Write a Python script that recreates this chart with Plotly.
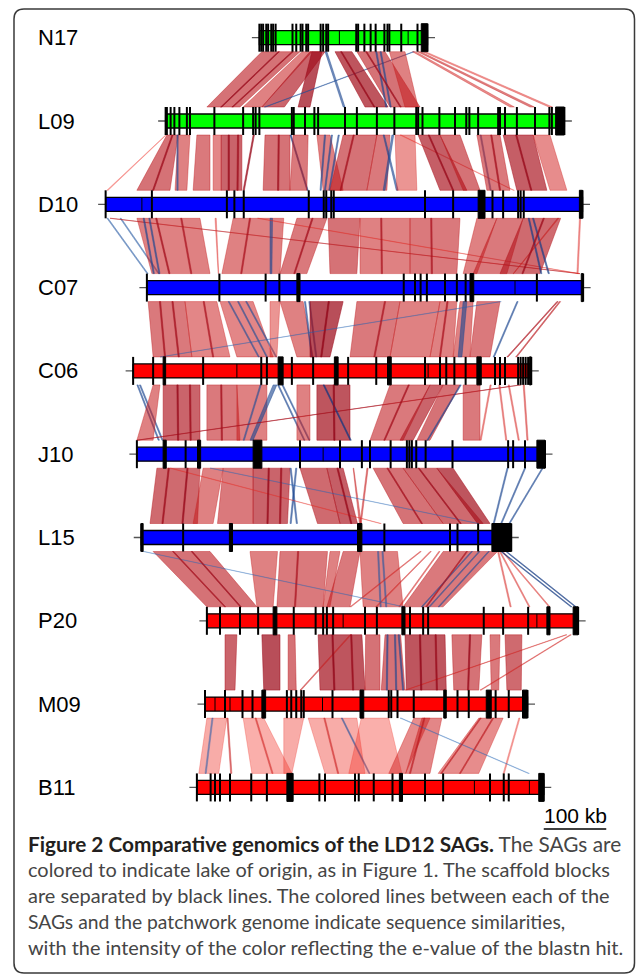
import plotly.graph_objects as go

# ---------------- data ----------------
GENOMES = ["N17", "L09", "D10", "C07", "C06", "J10", "L15", "P20", "M09", "B11"]
LAKE = ["green", "green", "blue", "blue", "red", "blue", "blue", "red", "red", "red"]
OFFSET_KB = [415, 265, 169, 235, 213, 219, 226, 331, 328, 315]
LENGTH_KB = [269, 638, 763, 698, 637, 653, 592, 594, 516, 555]

BOUNDS_KB = {
    "N17": [0, 3, 6, 11, 14, 19, 22, 26, 53, 59, 66, 69, 75, 78, 98, 102, 107, 110, 155, 158, 168,
            178, 186, 200, 205, 208, 227, 253],
    "L09": [0, 2, 8, 14, 22, 34, 39, 78, 124, 140, 144, 150, 202, 205, 223, 238, 244, 287, 306, 338,
            366, 401, 404, 411, 438, 463, 481, 486, 500, 532, 535, 543, 562, 591, 614, 618],
    "D10": [0, 74, 194, 206, 221, 325, 349, 353, 361, 365, 511, 556, 619, 636, 660, 664, 669],
    "C07": [0, 116, 190, 212, 411, 429, 438, 448, 477, 496, 510, 624],
    "C06": [0, 32, 112, 205, 214, 254, 288, 344, 389, 467, 491, 501, 514, 532, 579, 587, 595,
            616, 620, 624, 628, 632],
    "J10": [0, 78, 261, 325, 360, 373, 406, 432, 436, 440, 447, 462, 505, 594, 602, 621],
    "L15": [0, 67, 389, 494, 506, 539],
    "P20": [0, 21, 53, 82, 139, 174, 186, 192, 202, 253, 272, 325, 346, 354, 443, 474, 514],
    "M09": [0, 32, 60, 76, 131, 138, 146, 154, 158, 204, 294, 298, 308, 334, 404, 422, 465, 486],
    "B11": [0, 22, 29, 37, 53, 87, 112, 196, 205, 253, 259, 283, 313, 365, 394, 469, 491, 499],
}
MINOR_KB = {
    "N17": [128, 238], "L09": [], "D10": [58], "C07": [589], "C06": [166, 472],
    "J10": [298], "L15": [], "P20": [218, 528], "M09": [16, 40, 188], "B11": [444, 532],
}
BLOCKS_KB = {
    "N17": [(259, 269)],
    "L09": [(624, 638)],
    "D10": [(596, 607), (758, 763)],
    "C07": [(240, 245), (517, 523), (695, 698)],
    "C06": [(48, 52), (232, 240), (322, 328), (407, 413), (550, 557), (634, 637)],
    "J10": [(42, 47), (97, 102), (186, 200), (640, 653)],
    "L15": [(0, 3), (141, 146), (346, 353), (561, 592)],
    "P20": [(106, 112), (312, 317), (544, 549), (586, 594)],
    "M09": [(91, 97), (248, 254), (382, 386), (450, 458), (508, 516)],
    "B11": [(144, 154), (324, 329), (547, 555)],
}

# links: (upper start, upper end, lower start, lower end, e-value intensity, strand)
LINKS_N17_L09 = [
    (4, 65, 66, 119, 0.6, "r"), (68, 84, 124, 154, 0.5, "r"), (81, 105, 154, 190, 0.7, "r"),
    (84, 100, 212, 231, 0.85, "r"), (105, 108, 284, 287, 0.6, "b"), (246, 248, 158, 160, 0.5, "b"),
    (121, 148, 319, 356, 0.8, "r"), (156, 201, 359, 407, 0.6, "r"), (186, 188, 352, 354, 0.6, "b"),
    (193, 195, 359, 361, 0.6, "b"),
    (208, 233, 383, 404, 0.5, "r"), (245, 250, 551, 558, 0.4, "r"), (253, 258, 583, 590, 0.5, "r"),
    (261, 266, 613, 619, 0.3, "r"),
    (30, 32, 88, 90, 0.9, "r"), (52, 54, 106, 108, 0.85, "r"), (130, 132, 333, 335, 0.9, "r"),
    (170, 172, 375, 377, 0.85, "r"),
]
LINKS_L09_D10 = [
    (0, 1, 2, 4, 0.15, "r"), (2, 20, 50, 103, 0.6, "r"), (20, 39, 111, 130, 0.5, "r"),
    (18, 20, 114, 116, 0.5, "b"), (50, 71, 140, 167, 0.55, "r"), (76, 89, 172, 185, 0.45, "r"),
    (89, 122, 185, 218, 0.7, "r"), (140, 142, 220, 222, 0.9, "r"), (159, 199, 252, 295, 0.6, "r"),
    (199, 201, 322, 324, 0.8, "b"), (204, 228, 295, 322, 0.55, "r"), (242, 263, 348, 380, 0.5, "r"),
    (254, 256, 343, 345, 0.6, "b"), (265, 267, 350, 352, 0.6, "b"), (276, 278, 357, 359, 0.6, "b"),
    (284, 338, 359, 418, 0.6, "r"), (338, 359, 418, 450, 0.55, "r"),
    (348, 350, 465, 468, 0.6, "b"), (362, 365, 444, 447, 0.6, "b"), (367, 399, 466, 498, 0.35, "r"),
    (375, 377, 652, 654, 0.15, "r"), (404, 439, 535, 578, 0.75, "r"), (439, 471, 572, 599, 0.6, "r"),
    (503, 505, 615, 617, 0.5, "b"), (498, 535, 610, 647, 0.55, "r"), (540, 588, 658, 706, 0.75, "r"),
    (588, 615, 711, 738, 0.4, "r"),
    (10, 12, 75, 77, 0.85, "r"), (100, 102, 196, 198, 0.9, "r"), (115, 117, 210, 212, 0.85, "r"),
    (180, 182, 275, 277, 0.85, "r"), (300, 302, 375, 377, 0.8, "r"), (420, 422, 555, 557, 0.9, "r"),
    (560, 562, 680, 682, 0.9, "r"), (520, 522, 630, 632, 0.8, "r"),
]
LINKS_D10_C07 = [
    (2, 4, 0, 2, 0.4, "b"), (23, 25, 18, 20, 0.4, "b"), (7, 9, 691, 693, 0.6, "r"),
    (50, 151, 8, 101, 0.5, "r"), (60, 62, 10, 12, 0.6, "b"), (69, 71, 19, 21, 0.6, "b"),
    (175, 177, 114, 115, 0.3, "r"),
    (204, 285, 120, 213, 0.5, "r"), (263, 267, 197, 200, 0.6, "b"), (306, 354, 213, 256, 0.55, "r"),
    (356, 407, 293, 336, 0.6, "r"), (407, 487, 341, 421, 0.5, "r"), (487, 567, 421, 496, 0.55, "r"),
    (243, 245, 690, 692, 0.25, "r"), (594, 626, 506, 528, 0.5, "r"), (626, 668, 522, 576, 0.55, "r"),
    (668, 728, 565, 629, 0.65, "r"), (676, 678, 630, 632, 0.7, "b"), (683, 685, 642, 644, 0.7, "b"),
    (758, 760, 688, 690, 0.3, "r"), (723, 725, 586, 587, 0.5, "r"),
    (80, 82, 35, 37, 0.8, "r"), (120, 122, 70, 72, 0.75, "r"), (230, 232, 150, 152, 0.75, "r"),
    (330, 332, 235, 237, 0.8, "r"), (440, 442, 375, 377, 0.75, "r"), (520, 522, 455, 457, 0.75, "r"),
    (700, 702, 600, 602, 0.85, "r"),
]
LINKS_C07_C06 = [
    (2, 61, 32, 94, 0.55, "r"), (61, 112, 94, 155, 0.45, "r"), (117, 170, 166, 224, 0.45, "r"),
    (130, 132, 200, 202, 0.5, "b"), (145, 147, 213, 215, 0.5, "b"), (158, 160, 228, 230, 0.5, "b"),
    (197, 213, 219, 230, 0.35, "r"), (213, 250, 262, 288, 0.5, "r"),
    (252, 254, 285, 287, 0.6, "b"), (259, 261, 292, 294, 0.6, "b"),
    (261, 314, 283, 315, 0.85, "r"), (336, 405, 347, 411, 0.55, "r"),
    (405, 469, 411, 475, 0.5, "r"), (469, 496, 475, 512, 0.5, "r"), (501, 522, 512, 539, 0.5, "r"),
    (506, 512, 520, 526, 0.6, "b"), (528, 565, 539, 571, 0.55, "r"), (592, 594, 576, 578, 0.6, "b"),
    (656, 658, 598, 600, 0.7, "r"), (660, 662, 612, 614, 0.6, "r"), (565, 567, 43, 45, 0.2, "b"),
    (20, 22, 50, 52, 0.8, "r"), (40, 42, 72, 74, 0.8, "r"), (90, 92, 127, 129, 0.75, "r"),
    (290, 292, 300, 302, 0.95, "r"), (380, 382, 385, 387, 0.75, "r"), (480, 482, 490, 492, 0.75, "r"),
]
LINKS_C06_J10 = [
    (6, 8, 34, 36, 0.6, "b"), (10, 12, 40, 42, 0.6, "b"), (32, 43, 0, 26, 0.5, "r"),
    (48, 107, 42, 101, 0.7, "r"),
    (118, 166, 112, 165, 0.55, "r"), (166, 214, 160, 208, 0.5, "r"), (224, 230, 181, 186, 0.6, "b"),
    (203, 205, 170, 172, 0.5, "b"), (231, 233, 267, 269, 0.6, "b"), (238, 240, 275, 277, 0.6, "b"),
    (619, 621, 0, 2, 0.75, "r"),
    (262, 283, 256, 277, 0.5, "r"), (294, 347, 288, 341, 0.8, "r"), (304, 306, 341, 343, 0.8, "b"),
    (411, 475, 373, 426, 0.55, "r"), (475, 496, 421, 442, 0.7, "r"), (496, 523, 448, 469, 0.6, "r"),
    (523, 525, 464, 466, 0.6, "b"), (528, 555, 522, 549, 0.55, "r"), (571, 573, 549, 551, 0.35, "r"),
    (585, 587, 590, 592, 0.35, "r"), (600, 602, 610, 612, 0.35, "r"), (624, 626, 624, 626, 0.4, "r"),
    (70, 72, 65, 67, 0.9, "r"), (90, 92, 85, 87, 0.85, "r"), (140, 142, 135, 137, 0.8, "r"),
    (320, 322, 315, 317, 0.95, "r"), (440, 442, 395, 397, 0.8, "r"),
]
LINKS_J10_L15 = [
    (32, 101, 14, 90, 0.65, "r"), (106, 138, 83, 115, 0.5, "r"), (138, 186, 122, 179, 0.55, "r"),
    (186, 245, 179, 234, 0.7, "r"), (245, 247, 248, 250, 0.6, "b"), (254, 256, 238, 240, 0.6, "b"),
    (261, 304, 282, 318, 0.65, "r"), (304, 330, 318, 346, 0.75, "r"), (346, 347, 349, 352, 0.5, "r"),
    (368, 370, 350, 352, 0.5, "r"), (378, 426, 419, 483, 0.6, "r"), (426, 480, 483, 547, 0.65, "r"),
    (480, 506, 538, 558, 0.8, "r"), (592, 594, 563, 565, 0.6, "b"), (620, 622, 575, 577, 0.6, "b"),
    (648, 650, 588, 590, 0.6, "b"), (117, 119, 538, 540, 0.15, "b"), (53, 55, 382, 384, 0.2, "r"),
    (50, 52, 33, 35, 0.85, "r"), (80, 82, 65, 67, 0.9, "r"), (210, 212, 201, 203, 0.9, "r"),
    (230, 232, 221, 223, 0.85, "r"), (320, 322, 335, 337, 0.9, "r"), (450, 452, 510, 512, 0.85, "r"),
    (400, 402, 448, 450, 0.8, "r"),
]
LINKS_L15_P20 = [
    (19, 110, 0, 80, 0.6, "r"), (174, 218, 80, 106, 0.5, "r"), (222, 298, 112, 186, 0.55, "r"),
    (302, 318, 186, 197, 0.5, "r"), (323, 350, 192, 229, 0.55, "r"), (350, 410, 250, 314, 0.5, "r"),
    (378, 380, 277, 279, 0.4, "b"), (385, 387, 286, 288, 0.4, "b"),
    (446, 448, 229, 231, 0.4, "r"), (462, 464, 270, 272, 0.4, "r"),
    (476, 478, 307, 309, 0.4, "r"), (483, 570, 314, 378, 0.55, "r"),
    (528, 530, 343, 345, 0.5, "b"), (540, 542, 355, 357, 0.5, "b"), (555, 557, 370, 372, 0.5, "b"),
    (570, 572, 485, 487, 0.35, "r"), (573, 575, 515, 517, 0.35, "r"), (577, 579, 547, 549, 0.35, "r"),
    (575, 577, 582, 584, 0.75, "b"), (583, 585, 589, 591, 0.75, "b"), (3, 5, 314, 316, 0.15, "b"),
    (50, 52, 28, 30, 0.8, "r"), (80, 82, 53, 55, 0.85, "r"), (250, 252, 140, 142, 0.75, "r"),
    (520, 522, 350, 352, 0.75, "r"),
]
LINKS_P20_M09 = [
    (29, 48, 32, 48, 0.7, "r"), (88, 117, 94, 120, 0.85, "r"), (130, 141, 133, 146, 0.6, "r"),
    (178, 248, 184, 256, 0.8, "r"), (254, 277, 256, 280, 0.6, "r"), (285, 310, 282, 320, 0.6, "r"),
    (288, 290, 290, 292, 0.6, "b"), (300, 302, 305, 307, 0.6, "b"), (306, 308, 316, 318, 0.6, "b"),
    (317, 381, 322, 386, 0.8, "r"), (392, 440, 398, 438, 0.6, "r"), (453, 469, 458, 470, 0.55, "r"),
    (477, 504, 483, 506, 0.65, "r"), (574, 576, 320, 322, 0.4, "r"), (581, 583, 440, 442, 0.4, "r"),
    (229, 231, 152, 154, 0.5, "r"),
    (200, 202, 206, 208, 0.95, "r"), (230, 232, 236, 238, 0.9, "r"), (340, 342, 345, 347, 0.95, "r"),
    (365, 367, 370, 372, 0.9, "r"), (420, 422, 420, 422, 0.9, "r"),
]
LINKS_M09_B11 = [
    (3, 35, 3, 35, 0.15, "r"), (11, 13, 13, 15, 0.3, "b"), (35, 37, 54, 56, 0.5, "r"),
    (61, 94, 88, 152, 0.12, "r"), (126, 158, 139, 152, 0.15, "r"), (165, 243, 205, 269, 0.15, "r"),
    (218, 220, 275, 277, 0.45, "b"), (250, 294, 243, 328, 0.12, "r"), (334, 360, 307, 334, 0.4, "r"),
    (347, 379, 334, 373, 0.45, "r"), (438, 477, 386, 451, 0.4, "r"), (502, 504, 490, 492, 0.2, "r"),
    (312, 314, 530, 532, 0.15, "b"),
    (440, 442, 390, 392, 0.6, "r"), (460, 462, 420, 422, 0.6, "r"), (350, 352, 340, 342, 0.6, "r"),
    (190, 192, 225, 227, 0.45, "r"), (80, 82, 120, 122, 0.4, "r"),
]
LINKS = [LINKS_N17_L09, LINKS_L09_D10, LINKS_D10_C07, LINKS_C07_C06, LINKS_C06_J10,
         LINKS_J10_L15, LINKS_L15_P20, LINKS_P20_M09, LINKS_M09_B11]

SCALE_KB = 100
CAPTION = [
    "<b><span style='color:#231f20'>Figure 2 Comparative genomics of the LD12 SAGs.</span></b> The SAGs are",
    "colored to indicate lake of origin, as in Figure 1. The scaffold blocks",
    "are separated by black lines. The colored lines between each of the",
    "SAGs and the patchwork genome indicate sequence similarities,",
    "with the intensity of the color reflecting the e-value of the blastn hit.",
]
CAPTION_SIZE = [20.8, 19.95, 19.95, 19.3, 19.9]

# ---------------- layout constants ----------------
W, H = 636, 979
KB_PER_PX = 1.6
ROW0_PX, ROW_PX = 37.7, 83.3
BAR_H = 7.0 / ROW_PX
TICK_H = 14.0 / ROW_PX
LAKE_FILL = {"green": "#00ff00", "blue": "#0000ff", "red": "#ff0000"}


def ydat(p):
    return (p - ROW0_PX) / ROW_PX


def link_color(s, kind):
    if kind == "r":
        lo, hi = (255, 55, 40), (140, 5, 25)
    else:
        lo, hi = (45, 115, 195), (15, 40, 110)
    c = [round(lo[k] + (hi[k] - lo[k]) * s) for k in range(3)]
    a = 0.33 + 0.47 * s
    return "rgba(%d,%d,%d,%.2f)" % (c[0], c[1], c[2], a)


fig = go.Figure()

# links
for g, links in enumerate(LINKS):
    yt = g + TICK_H
    yb = g + 1 - TICK_H
    ot, ob = OFFSET_KB[g], OFFSET_KB[g + 1]
    for (a, b, c, d, s, kind) in links:
        col = link_color(s, kind)
        fig.add_trace(go.Scatter(
            x=[ot + a, ot + b, ob + d, ob + c, ot + a],
            y=[yt, yt, yb, yb, yt],
            mode="lines", fill="toself", fillcolor=col,
            line=dict(color=col, width=0.7),
            hoverinfo="skip", showlegend=False))

# genomes
for i, name in enumerate(GENOMES):
    off, ln = OFFSET_KB[i], LENGTH_KB[i]
    fig.add_trace(go.Scatter(x=[off - 12, off + ln + 12], y=[i, i], mode="lines",
                             line=dict(color="#555555", width=1.3),
                             hoverinfo="skip", showlegend=False))
    fig.add_trace(go.Scatter(
        x=[off, off + ln, off + ln, off, off],
        y=[i - BAR_H, i - BAR_H, i + BAR_H, i + BAR_H, i - BAR_H],
        mode="lines", fill="toself", fillcolor=LAKE_FILL[LAKE[i]],
        line=dict(color="black", width=1.3), hoverinfo="skip", showlegend=False))
    xs, ys = [], []
    for b in BOUNDS_KB[name] + [ln]:
        xs += [off + b, off + b, None]
        ys += [i - TICK_H, i + TICK_H, None]
    fig.add_trace(go.Scatter(x=xs, y=ys, mode="lines", line=dict(color="black", width=2),
                             hoverinfo="skip", showlegend=False))
    if MINOR_KB[name]:
        xs, ys = [], []
        for b in MINOR_KB[name]:
            xs += [off + b, off + b, None]
            ys += [i - BAR_H, i + BAR_H, None]
        fig.add_trace(go.Scatter(x=xs, y=ys, mode="lines", line=dict(color="black", width=1),
                                 hoverinfo="skip", showlegend=False))
    for (s0, s1) in BLOCKS_KB[name]:
        fig.add_trace(go.Scatter(
            x=[off + s0, off + s1, off + s1, off + s0, off + s0],
            y=[i - TICK_H, i - TICK_H, i + TICK_H, i + TICK_H, i - TICK_H],
            mode="lines", fill="toself", fillcolor="black",
            line=dict(color="black", width=1), hoverinfo="skip", showlegend=False))

# scale bar
sb_x0 = 870
fig.add_trace(go.Scatter(x=[sb_x0, sb_x0 + SCALE_KB], y=[ydat(829), ydat(829)], mode="lines",
                         line=dict(color="black", width=1.3), hoverinfo="skip", showlegend=False))

annotations = []
for i, name in enumerate(GENOMES):
    annotations.append(dict(x=36 / W, xref="paper", y=i, yref="y", text=name, showarrow=False,
                            xanchor="left", yanchor="middle",
                            font=dict(family="Liberation Sans, Arial", size=22, color="black")))
annotations.append(dict(x=sb_x0 + SCALE_KB / 2, xref="x", y=ydat(815), yref="y",
                        text="%d kb" % SCALE_KB, showarrow=False, xanchor="center",
                        yanchor="middle",
                        font=dict(family="Liberation Sans, Arial", size=21, color="black")))
for k, line in enumerate(CAPTION):
    annotations.append(dict(x=26 / W, xref="paper", y=1 - (843 + 26 * k) / H, yref="paper",
                            text=line, showarrow=False, xanchor="left", yanchor="middle",
                            font=dict(family="Lato", size=CAPTION_SIZE[k], color="#454545")))

# rounded frame
L, T, R, B, r = 14, 9, 634.5, 973, 10
def px(xp, yp):
    return "%.5f %.5f" % (xp / W, 1 - yp / H)
path = ("M " + px(L + r, T) + " L " + px(R - r, T) + " Q " + px(R, T) + " " + px(R, T + r) +
        " L " + px(R, B - r) + " Q " + px(R, B) + " " + px(R - r, B) +
        " L " + px(L + r, B) + " Q " + px(L, B) + " " + px(L, B - r) +
        " L " + px(L, T + r) + " Q " + px(L, T) + " " + px(L + r, T) + " Z")

fig.update_layout(
    width=W, height=H, margin=dict(l=0, r=0, t=0, b=0),
    paper_bgcolor="white", plot_bgcolor="white", showlegend=False,
    xaxis=dict(range=[0, W * KB_PER_PX], visible=False, fixedrange=True),
    yaxis=dict(range=[ydat(H), ydat(0)], visible=False, fixedrange=True),
    annotations=annotations,
    shapes=[dict(type="path", xref="paper", yref="paper", path=path,
                 line=dict(color="#3a3a3a", width=1.5), layer="above")],
)

fig.write_html("out.html", config={"displayModeBar": False},
               post_script="document.body.style.margin='0';"
                           "document.body.style.overflow='hidden';")
